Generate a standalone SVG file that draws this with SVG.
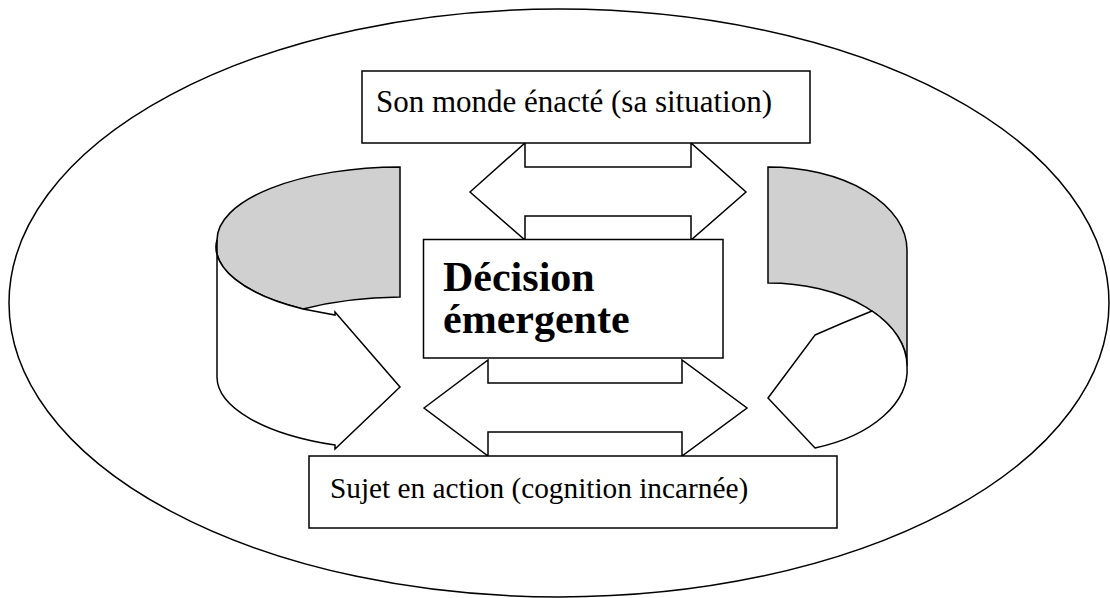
<svg xmlns="http://www.w3.org/2000/svg" width="1110" height="598" viewBox="0 0 1110 598">
<style>
.s{stroke:#000;stroke-width:1.5;stroke-linejoin:miter}
.w{fill:#fff}
.g{fill:#d0d0d0}
.t{font-family:"Liberation Serif","Times New Roman",serif;fill:#000}
.b{font-family:"Liberation Serif","Times New Roman",serif;font-size:42px;font-weight:bold;fill:#000}
</style>
<rect width="1110" height="598" fill="#fff"/>
<g id="cadre">
<ellipse class="s" cx="559" cy="303" rx="550" ry="294" fill="none"/>
</g>
<g id="connecteurs">
<polygon class="s w" points="470,192 525,143 525,167 691,167 691,143 746,192 691,240 691,216 525,216 525,240"/>
<polygon class="s w" points="424,408 488,360 488,383 682,383 682,360 747,408 682,456 682,432 488,432 488,456"/>
<g id="boucle-gauche">
<path class="s g" d="M217,240 A183,73 0 0 1 400,167 L400,297 A183,73 0 0 0 303,309 A183,73 0 0 1 217,240 Z"/>
<path class="s w" d="M217,240 A183,73 0 0 0 303,309 L335,315 L335,312 L400,387 L335,449 L335,445 A183,73 0 0 1 217,377 Z"/>
</g>
<g id="boucle-droite">
<path class="s g" d="M768,167 A139,83 0 0 1 907,250 L907,366 A139,83 0 0 0 768,283 Z"/>
<path class="s w" d="M872,311 Q842,323 815,335 L768,398 L815,448 A139,83 0 0 0 907,366 A139,83 0 0 0 872,311 Z"/>
</g>
</g>
<g id="monde">
<rect class="s w" x="362" y="71" width="448" height="72"/>
<text class="t" x="376" y="112" font-size="31">Son monde énacté (sa situation)</text>
</g>
<g id="decision">
<rect class="s w" x="423.5" y="239.5" width="299.5" height="118.5"/>
<text class="b" x="443" y="291">Décision</text>
<text class="b" x="443" y="333">émergente</text>
</g>
<g id="sujet">
<rect class="s w" x="309" y="456" width="528" height="72"/>
<text class="t" x="330" y="498" font-size="29.3">Sujet en action (cognition incarnée)</text>
</g>
</svg>
